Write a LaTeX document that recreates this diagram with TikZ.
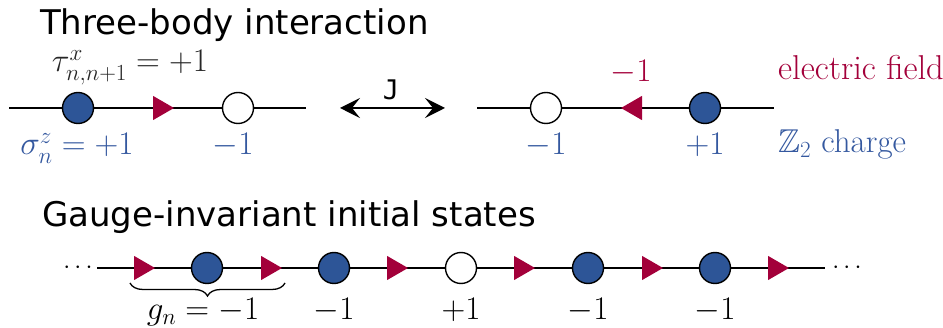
\RequirePackage{fix-cm}
\documentclass[tikz,border=0pt]{standalone}
\usepackage{fontspec}
\usepackage{amssymb}
\setsansfont{DejaVu Sans}
\newfontfamily\monofnt{DejaVu Sans Mono}
\usetikzlibrary{shapes.geometric,arrows.meta,decorations.pathreplacing}
\definecolor{qblue}{HTML}{2D5597}
\definecolor{qtext}{HTML}{34589F}
\definecolor{qred}{HTML}{A3003A}
\tikzset{
  chain/.style={line width=1.8pt, black},
  dotnode/.style={circle, draw=black, line width=1.4pt, minimum size=31pt, inner sep=0pt},
  bdot/.style={dotnode, fill=qblue},
  wdot/.style={dotnode, fill=white},
  trinode/.style={regular polygon, regular polygon sides=3, fill=qred, draw=none, minimum size=28pt, inner sep=0pt},
  triR/.style={trinode, shape border rotate=-90},
  triL/.style={trinode, shape border rotate=90},
  ttl/.style={anchor=base west, font=\sffamily\fontsize{34}{40}\selectfont, inner sep=0pt},
  mlab/.style={anchor=base, font=\fontsize{33}{40}\selectfont, inner sep=0pt},
  rlab/.style={anchor=base west, inner sep=0pt},
  brc/.style={decorate, decoration={brace, mirror, amplitude=13pt}, line width=1.3pt},
  dots/.style={anchor=base, font=\fontsize{25}{30}\selectfont, inner sep=0pt}
}
\begin{document}
\begin{tikzpicture}[x=1pt, y=-1pt]
\useasboundingbox (0,0) rectangle (943,328);
% titles
\node[ttl] (t1) at (40,35) {Three-body interaction};
\node[ttl] (t2) at (42,227) {Gauge-invariant initial states};
% top-left chain
\coordinate (la) at (9,108);
\coordinate (lb) at (306,108);
\node[bdot] (c1) at (78,108) {};
\node[wdot] (c2) at (238,108) {};
\draw[chain] (la) -- (c1) (c1) -- (c2) (c2) -- (lb);
\node[triR] (e1) at (160,108) {};
\node[mlab, black!85] (tau) at (130,72) {$\tau^x_{n,n+1}=+1$};
\node[mlab, qtext] (sig) at (77,155) {$\sigma^z_n=+1$};
\node[mlab, qtext] (q2) at (233,155) {$-1$};
% double arrow
\coordinate (aL) at (340,108);
\coordinate (aR) at (445,108);
\draw[line width=1.8pt, {Stealth[length=20pt,width=20pt,inset=8pt]}-{Stealth[length=20pt,width=20pt,inset=8pt]}] (aL) -- (aR);
\node[anchor=base, inner sep=0pt, font=\monofnt\fontsize{27}{32}\selectfont] (J) at (391,100) {J};
% top-right chain
\coordinate (ra) at (477,108);
\coordinate (rb) at (774,108);
\node[wdot] (c3) at (546,108) {};
\node[bdot] (c4) at (705,108) {};
\draw[chain] (ra) -- (c3) (c3) -- (c4) (c4) -- (rb);
\node[triL] (e2) at (635,108) {};
\node[mlab, qred] (ef) at (631,82) {$-1$};
\node[mlab, qtext] (q3) at (546,155) {$-1$};
\node[mlab, qtext] (q4) at (705,155) {$+1$};
\node[rlab, qred, font=\fontsize{34.5}{40}\selectfont] (lef) at (778,80) {electric field};
\node[rlab, qtext, font=\fontsize{33}{40}\selectfont] (lch) at (778,153) {$\mathbb{Z}_2$ charge};
% bottom chain
\coordinate (ba) at (97,268);
\coordinate (bb) at (825,268);
\node[bdot] (b1) at (207,268) {};
\node[bdot] (b2) at (334,268) {};
\node[wdot] (b3) at (461,268) {};
\node[bdot] (b4) at (588,268) {};
\node[bdot] (b5) at (715,268) {};
\draw[chain] (ba) -- (b1) (b1) -- (b2) (b2) -- (b3) (b3) -- (b4) (b4) -- (b5) (b5) -- (bb);
\node[triR] (f1) at (141,268) {};
\node[triR] (f2) at (268,268) {};
\node[triR] (f3) at (394,268) {};
\node[triR] (f4) at (521,268) {};
\node[triR] (f5) at (649,268) {};
\node[triR] (f6) at (775,268) {};
\node[dots] (dl) at (78,274) {$\cdots$};
\node[dots] (dr) at (847,274) {$\cdots$};
% brace
\coordinate (bra) at (130,283);
\coordinate (brb) at (285,283);
\draw[brc] (bra) -- (brb);
\node[mlab] (gn) at (203,320) {$g_n=-1$};
\node[mlab] (g2) at (334,320) {$-1$};
\node[mlab] (g3) at (461,320) {$+1$};
\node[mlab] (g4) at (588,320) {$-1$};
\node[mlab] (g5) at (715,320) {$-1$};
\end{tikzpicture}
\end{document}
